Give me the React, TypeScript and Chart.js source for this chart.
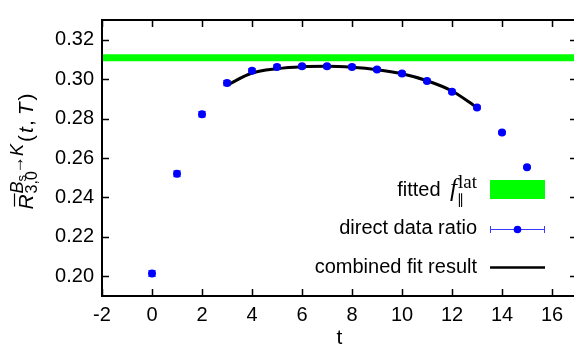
import React, { useEffect, useRef } from 'react';
import { Chart, registerables } from 'chart.js';

Chart.register(...registerables);

const xTicks = [-2, 0, 2, 4, 6, 8, 10, 12, 14, 16];
const yTicks = [0.20, 0.22, 0.24, 0.26, 0.28, 0.30, 0.32];

const tValues = [0, 1, 2, 3, 4, 5, 6, 7, 8, 9, 10, 11, 12, 13, 14, 15];
const ratioValues = [0.2014, 0.2520, 0.2822, 0.2980, 0.3042, 0.3062, 0.3065, 0.3065, 0.3062, 0.3049, 0.3028, 0.2991, 0.2936, 0.2856, 0.2729, 0.2553];
const ratioErrors = [0.0015, 0.0015, 0.0014, 0.0013, 0.0012, 0.0011, 0.0010, 0.0010, 0.0010, 0.0010, 0.0010, 0.0009, 0.0009, 0.0008, 0.0007, 0.0006];

const fitT = [3, 4, 5, 6, 7, 8, 9, 10, 11, 12, 13];
const fitValues = [0.2969, 0.3031, 0.3053, 0.3063, 0.3065, 0.3060, 0.3048, 0.3027, 0.2992, 0.2940, 0.2856];

const bandRange = [-2, 17];
const bandLow = 0.3091;
const bandHigh = 0.3126;

const SANS = '"Liberation Sans", Arial, sans-serif';
const SERIF = '"Liberation Serif", "DejaVu Serif", serif';

const errorBarPlugin = {
  id: 'errorBars',
  beforeDatasetsDraw(chart: any) {
    const ctx = chart.ctx;
    const xs = chart.scales.x;
    const ys = chart.scales.y;
    ctx.save();
    ctx.strokeStyle = '#6a6aff';
    ctx.lineWidth = 1;
    tValues.forEach((t, i) => {
      const px = xs.getPixelForValue(t);
      const yLo = ys.getPixelForValue(ratioValues[i] - ratioErrors[i]);
      const yHi = ys.getPixelForValue(ratioValues[i] + ratioErrors[i]);
      ctx.beginPath();
      ctx.moveTo(px, yLo);
      ctx.lineTo(px, yHi);
      ctx.moveTo(px - 4, yLo);
      ctx.lineTo(px + 4, yLo);
      ctx.moveTo(px - 4, yHi);
      ctx.lineTo(px + 4, yHi);
      ctx.stroke();
    });
    ctx.restore();
  },
};

const framePlugin = {
  id: 'frame',
  afterDraw(chart: any) {
    const ctx = chart.ctx;
    const a = chart.chartArea;
    const xs = chart.scales.x;
    const ys = chart.scales.y;
    ctx.save();
    ctx.strokeStyle = '#000';
    ctx.lineWidth = 1.5;
    const tl = 7;
    ctx.beginPath();
    xTicks.forEach((v) => {
      const px = Math.round(xs.getPixelForValue(v)) + 0.5;
      ctx.moveTo(px, a.bottom);
      ctx.lineTo(px, a.bottom - tl);
      ctx.moveTo(px, a.top);
      ctx.lineTo(px, a.top + tl);
    });
    yTicks.forEach((v) => {
      const py = Math.round(ys.getPixelForValue(v)) + 0.5;
      ctx.moveTo(a.left, py);
      ctx.lineTo(a.left + tl, py);
      ctx.moveTo(a.right, py);
      ctx.lineTo(a.right - tl, py);
    });
    ctx.stroke();
    ctx.lineWidth = 2;
    ctx.strokeRect(a.left, a.top, a.right - a.left, a.bottom - a.top);

    // x title
    ctx.fillStyle = '#000';
    ctx.font = `21px ${SANS}`;
    ctx.textAlign = 'center';
    ctx.textBaseline = 'alphabetic';
    ctx.fillText('t', (a.left + a.right) / 2, 344);

    // y title (rotated)
    ctx.save();
    ctx.translate(33, 151.5);
    ctx.rotate(-Math.PI / 2);
    ctx.textAlign = 'left';
    const fR = `italic 21px ${SANS}`;
    const fSup = `italic 18px ${SANS}`;
    const fSupN = `18px ${SANS}`;
    const fSub = `16px ${SANS}`;
    const fSS = `13px ${SANS}`;
    const fMain = `21px ${SANS}`;
    const fMainI = `italic 21px ${SANS}`;
    const meas = (f: string, s: string) => { ctx.font = f; return ctx.measureText(s).width; };
    const wR = meas(fR, 'R');
    const wSub = meas(fSub, '3,0');
    const wB = meas(fSup, 'B');
    const wS = meas(fSS, 's');
    const wArr = meas(fSupN, '→');
    const wK = meas(fSup, 'K');
    const wSupTot = wB + wS + 1 + wArr + wK;
    const wScripts = Math.max(wSub, wSupTot);
    const parts: [string, string, number][] = [
      ['(', fMain, 2], ['t', fMainI, 1], [',', fMain, 5], ['T', fMainI, 2], [')', fMain, 0],
    ];
    let wParen = 0;
    parts.forEach(([s, f, g]) => { wParen += meas(f, s) + g; });
    const total = wR + 1 + wScripts + 2 + wParen;
    let x = -total / 2;
    ctx.font = fR;
    ctx.fillText('R', x, 0);
    ctx.lineWidth = 1.2;
    ctx.beginPath();
    ctx.moveTo(x + 3, -18.5);
    ctx.lineTo(x + wR + 1, -18.5);
    ctx.stroke();
    x += wR + 1;
    ctx.font = fSub;
    ctx.fillText('3,0', x, 4);
    let sx = x;
    ctx.font = fSup;
    ctx.fillText('B', sx, -10);
    sx += wB;
    ctx.font = fSS;
    ctx.fillText('s', sx, -7);
    sx += wS + 1;
    ctx.font = fSupN;
    ctx.fillText('→', sx, -10);
    sx += wArr;
    ctx.font = fSup;
    ctx.fillText('K', sx, -10);
    x += wScripts + 2;
    parts.forEach(([s, f, g]) => {
      ctx.font = f;
      ctx.fillText(s, x, 0);
      x += ctx.measureText(s).width + g;
    });
    ctx.restore();
    ctx.restore();
  },
};

const legendPlugin = {
  id: 'customLegend',
  afterDraw(chart: any) {
    const ctx = chart.ctx;
    ctx.save();
    ctx.fillStyle = '#000';
    ctx.textBaseline = 'alphabetic';
    const right = 477;
    const sx0 = 490;
    const sx1 = 545;

    // row 1: fitted f_||^lat
    const fText = `20px ${SANS}`;
    const fF = `italic 25px ${SERIF}`;
    const fLat = `19px ${SERIF}`;
    const fPar = `14px "DejaVu Sans", sans-serif`;
    ctx.font = fLat;
    const wLat = ctx.measureText('lat').width;
    ctx.font = fF;
    const wF = ctx.measureText('f').width;
    ctx.font = fText;
    const wFit = ctx.measureText('fitted ').width;
    const latX = right - wLat;
    const fX = latX - wF - 1;
    const b1 = 196;
    ctx.textAlign = 'left';
    ctx.font = fText;
    ctx.fillText('fitted ', fX - wFit - 4, b1);
    ctx.font = fF;
    ctx.fillText('f', fX, b1);
    ctx.font = fLat;
    ctx.fillText('lat', latX, b1 - 8);
    ctx.font = fPar;
    ctx.fillText('∥', latX - 1, b1 + 8);
    ctx.fillStyle = '#00ff00';
    ctx.fillRect(sx0, 180, sx1 - sx0, 19);

    // row 2
    ctx.fillStyle = '#000';
    ctx.font = fText;
    ctx.textAlign = 'right';
    ctx.fillText('direct data ratio', right, 234);
    ctx.strokeStyle = '#3a3aff';
    ctx.lineWidth = 1;
    ctx.beginPath();
    ctx.moveTo(sx0, 229.5);
    ctx.lineTo(sx1, 229.5);
    ctx.moveTo(sx0 + 0.5, 226);
    ctx.lineTo(sx0 + 0.5, 233);
    ctx.moveTo(sx1 - 0.5, 226);
    ctx.lineTo(sx1 - 0.5, 233);
    ctx.stroke();
    ctx.fillStyle = '#0000ff';
    ctx.beginPath();
    ctx.arc(517.5, 229.5, 3.8, 0, Math.PI * 2);
    ctx.fill();

    // row 3
    ctx.fillStyle = '#000';
    ctx.fillText('combined fit result', right, 273);
    ctx.strokeStyle = '#000';
    ctx.lineWidth = 2.5;
    ctx.beginPath();
    ctx.moveTo(sx0, 267.5);
    ctx.lineTo(sx1, 267.5);
    ctx.stroke();
    ctx.restore();
  },
};

export default function App() {
  const ref = useRef<HTMLCanvasElement>(null);
  useEffect(() => {
    const canvas = ref.current;
    if (!canvas) return;
    const chart = new Chart(canvas, {
      type: 'scatter',
      data: {
        datasets: [
          {
            label: 'data',
            data: tValues.map((t, i) => ({ x: t, y: ratioValues[i] })),
            backgroundColor: '#0000ff',
            borderColor: '#0000ff',
            pointRadius: 4,
            pointBorderWidth: 0,
            showLine: false,
            order: 0,
          },
          {
            label: 'fit',
            data: fitT.map((t, i) => ({ x: t, y: fitValues[i] })),
            borderColor: '#000',
            borderWidth: 3,
            pointRadius: 0,
            showLine: true,
            cubicInterpolationMode: 'monotone',
            order: 1,
          },
          {
            label: 'bandHigh',
            data: bandRange.map((x) => ({ x, y: bandHigh })),
            borderWidth: 0,
            borderColor: 'rgba(0,0,0,0)',
            pointRadius: 0,
            showLine: true,
            fill: false,
            order: 2,
          },
          {
            label: 'bandLow',
            data: bandRange.map((x) => ({ x, y: bandLow })),
            borderWidth: 0,
            borderColor: 'rgba(0,0,0,0)',
            backgroundColor: '#00ff00',
            pointRadius: 0,
            showLine: true,
            fill: '-1',
            order: 3,
          },
        ] as any,
      },
      options: {
        animation: false,
        responsive: false,
        devicePixelRatio: 1,
        layout: { padding: { left: 0, top: 6, right: 13, bottom: 0 } },
        plugins: {
          legend: { display: false },
          tooltip: { enabled: false },
        },
        scales: {
          x: {
            type: 'linear',
            min: -2,
            max: 17,
            grid: { display: false, drawTicks: false },
            border: { display: false },
            afterBuildTicks: (s: any) => { s.ticks = xTicks.map((v) => ({ value: v })); },
            afterFit: (s: any) => { s.height = 56; },
            ticks: {
              color: '#000',
              font: { family: SANS, size: 20 },
              padding: 7,
              maxRotation: 0,
              callback: (v: any) => String(v),
            },
          },
          y: {
            type: 'linear',
            min: 0.19,
            max: 0.33,
            grid: { display: false, drawTicks: false },
            border: { display: false },
            afterBuildTicks: (s: any) => { s.ticks = yTicks.map((v) => ({ value: v })); },
            afterFit: (s: any) => { s.width = 102; },
            ticks: {
              color: '#000',
              font: { family: SANS, size: 20 },
              padding: 8,
              callback: (v: any) => Number(v).toFixed(2),
            },
          },
        },
      } as any,
      plugins: [errorBarPlugin, framePlugin, legendPlugin],
    });
    return () => chart.destroy();
  }, []);
  return (
    <div style={{ position: 'fixed', left: 0, top: 0, width: 574, height: 352, overflow: 'hidden', background: '#fff' }}>
      <canvas ref={ref} width={590} height={352} style={{ display: 'block', width: 590, height: 352 }} />
    </div>
  );
}
